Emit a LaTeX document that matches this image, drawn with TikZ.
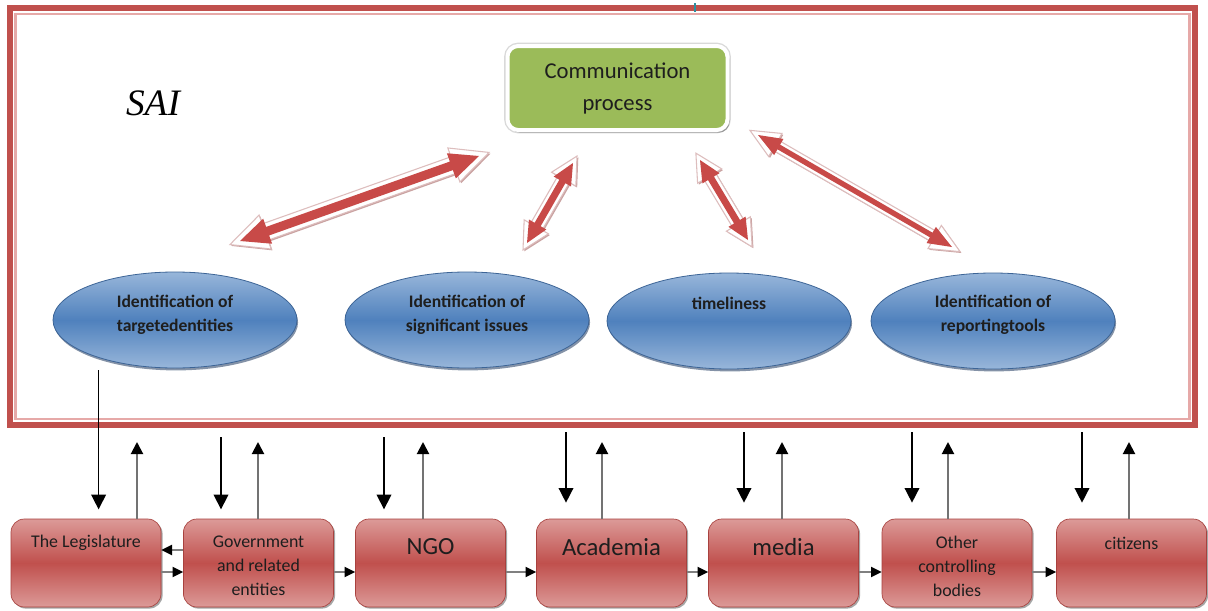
\documentclass[tikz,border=0pt]{standalone}
\usepackage{fontspec}
\setmainfont{Carlito}
\newfontfamily\timesf{Liberation Serif}
\usetikzlibrary{calc,shapes.geometric,shadows,arrows.meta}
\definecolor{frameRed}{HTML}{C0504D}
\definecolor{framePink}{HTML}{E6A9A8}
\definecolor{greenM}{HTML}{9BBB59}
\definecolor{blueM}{HTML}{4F81BD}
\definecolor{blueL}{HTML}{98B6DA}
\definecolor{blueD}{HTML}{3C6496}
\definecolor{blueDD}{HTML}{1F3A60}
\definecolor{redM}{HTML}{C0504D}
\definecolor{redL}{HTML}{DC9A98}
\definecolor{redD}{HTML}{A8413E}
\definecolor{arrRed}{HTML}{C84A48}
\definecolor{arrEdge}{HTML}{DDBDBD}
\definecolor{arrShadow}{HTML}{A05856}
\definecolor{txt}{HTML}{1E1E1E}
\definecolor{tealT}{HTML}{2E8FA0}
% block double arrow: from, to, extension, shaft half width, head half width, head length, style
\newcommand\blockarr[7]{%
\path[#7] let \p1=($(#2)-(#1)$), \n1={atan2(\y1,\x1)},
  \p2=($(#1)!-#3!(#2)$), \p3=($(#2)!-#3!(#1)$) in
  (\p2) -- ($(\p2)+(\n1:#6)+(\n1+90:#5)$) -- ($(\p2)+(\n1:#6)+(\n1+90:#4)$)
  -- ($(\p3)+(\n1+180:#6)+(\n1+90:#4)$) -- ($(\p3)+(\n1+180:#6)+(\n1+90:#5)$)
  -- (\p3) -- ($(\p3)+(\n1+180:#6)+(\n1-90:#5)$) -- ($(\p3)+(\n1+180:#6)+(\n1-90:#4)$)
  -- ($(\p2)+(\n1:#6)+(\n1-90:#4)$) -- ($(\p2)+(\n1:#6)+(\n1-90:#5)$) -- cycle;}
\tikzset{
  ell/.style={ellipse, minimum width=183pt, minimum height=72pt, inner sep=0pt,
    top color=blueL, bottom color=blueL, middle color=blueM, draw=blueD, line width=0.6pt,
    drop shadow={shadow xshift=0.8pt, shadow yshift=-1.8pt, fill=blueDD, opacity=0.55}},
  elltext/.style={font=\bfseries\fontsize{13.2}{18}\selectfont, text=txt, align=center},
  boxr/.style={rectangle, rounded corners=10pt, minimum width=112.5pt, minimum height=66pt,
    inner sep=0pt, top color=redL, bottom color=redL, middle color=redM, draw=redD, line width=0.5pt,
    drop shadow={shadow xshift=1.2pt, shadow yshift=-1.2pt, fill=black, opacity=0.35}},
  boxtext/.style={font=\fontsize{13.4}{18}\selectfont, text=txt, align=center},
  bigtext/.style={font=\fontsize{18.5}{22}\selectfont, text=txt},
  commbox/.style={rectangle, rounded corners=8pt, minimum width=165pt, minimum height=63pt,
    fill=greenM, draw=white, line width=3pt, align=center, text=txt,
    font=\fontsize{17}{24}\selectfont,
    preaction={draw=black!15, line width=5pt},
    drop shadow={shadow xshift=1.5pt, shadow yshift=-2pt, fill=black, opacity=0.3}},
  downarr/.style={-{Triangle[width=11pt,length=11pt]}, line width=1.1pt, draw=black},
  uparr/.style={-{Triangle[width=9pt,length=9pt,color=black]}, line width=1.5pt, draw=black!55},
  harr/.style={-{Triangle[width=7.5pt,length=8pt,color=black]}, line width=1.6pt, draw=black!50},
  redarr/.style={fill=arrRed},
  outarr/.style={fill=white, draw=arrEdge, line width=0.8pt, xshift=1.6pt, yshift=-2.2pt,
    drop shadow={shadow xshift=1pt, shadow yshift=-1pt, fill=arrShadow, opacity=0.55}},
}
\begin{document}
\begin{tikzpicture}[x=0.75pt,y=-0.75pt]
\useasboundingbox (0,0) rectangle (1208,611);
\fill[white] (0,0) rectangle (1208,611);
% frame
\draw[frameRed, line width=4.5pt] (10,8) rectangle (1195,425);
\draw[framePink, line width=2pt] (15.5,14) rectangle (1189.5,419);
\draw[tealT, line width=1.5pt] (695,3) -- (695,12);
% SAI label
\node (sai) at (153,103) {\timesf\itshape\fontsize{28}{30}\selectfont SAI};
% communication box
\node[commbox] (comm) at (617.5,88) {Communication\\process};
% ellipses
\node[ell] (e1) at (175,320) {};
\node[ell] (e2) at (467,320) {};
\node[ell] (e3) at (729,321) {};
\node[ell] (e4) at (993,321) {};
\node[elltext] (t1) at (175,315) {Identification of\\targetedentities};
\node[elltext] (t2) at (467,315) {Identification of\\significant issues};
\node[elltext] (t3) at (729,303) {timeliness};
\node[elltext] (t4) at (993,315) {Identification of\\reportingtools};
% block arrows
\coordinate (a1s) at (240,241); \coordinate (a1e) at (479,156);
\coordinate (a2s) at (527,243); \coordinate (a2e) at (573,163);
\coordinate (a3s) at (748,240); \coordinate (a3e) at (700,160);
\coordinate (a4s) at (952,247); \coordinate (a4e) at (758,135);
\blockarr{a1s}{a1e}{8pt}{6.5pt}{13.5pt}{28pt}{outarr}
\blockarr{a1s}{a1e}{0pt}{3.4pt}{10pt}{22pt}{redarr}
\blockarr{a2s}{a2e}{6pt}{5pt}{10.5pt}{20pt}{outarr}
\blockarr{a2s}{a2e}{0pt}{2.6pt}{7.5pt}{16pt}{redarr}
\blockarr{a3s}{a3e}{6pt}{5pt}{10.5pt}{20pt}{outarr}
\blockarr{a3s}{a3e}{0pt}{2.6pt}{7.5pt}{16pt}{redarr}
\blockarr{a4s}{a4e}{7pt}{4.3pt}{10pt}{22pt}{outarr}
\blockarr{a4s}{a4e}{0pt}{2pt}{7pt}{18pt}{redarr}
% bottom boxes
\node[boxr] (b1) at (86,563) {};
\node[boxr] (b2) at (258.5,563) {};
\node[boxr] (b3) at (430.5,563) {};
\node[boxr] (b4) at (611.5,563) {};
\node[boxr] (b5) at (783.5,563) {};
\node[boxr] (b6) at (957,563) {};
\node[boxr] (b7) at (1131.5,563) {};
\node[boxtext] (l1) at (86,543) {The Legislature};
\node[boxtext] (l2) at (258.5,566) {Government\\and related\\entities};
\node[bigtext] (l3) at (430.5,547) {NGO};
\node[bigtext] (l4) at (611.5,547) {Academia};
\node[bigtext] (l5) at (783.5,547) {media};
\node[boxtext] (l6) at (957,566) {Other\\controlling\\bodies};
\node[boxtext] (l7) at (1131.5,543) {citizens};
% vertical arrows
\coordinate (d1) at (98.6,370);
\coordinate (d2) at (221,437);
\coordinate (d3) at (384,437);
\coordinate (d4) at (566,432);
\coordinate (d5) at (744,432);
\coordinate (d6) at (912,432);
\coordinate (d7) at (1082,432);
\draw[downarr] (d1) -- ([yshift=7pt]d1 |- b1.north);
\draw[downarr] (d2) -- ([yshift=7pt]d2 |- b2.north);
\draw[downarr] (d3) -- ([yshift=7pt]d3 |- b3.north);
\draw[downarr] (d4) -- ([yshift=12pt]d4 |- b4.north);
\draw[downarr] (d5) -- ([yshift=12pt]d5 |- b5.north);
\draw[downarr] (d6) -- ([yshift=12pt]d6 |- b6.north);
\draw[downarr] (d7) -- ([yshift=12pt]d7 |- b7.north);
\coordinate (u1) at (137,442);
\coordinate (u2) at (258,442);
\coordinate (u3) at (423,442);
\coordinate (u4) at (602,442);
\coordinate (u5) at (782,442);
\coordinate (u6) at (948,442);
\coordinate (u7) at (1129,442);
\draw[uparr] (u1 |- b1.north) -- (u1);
\draw[uparr] (u2 |- b2.north) -- (u2);
\draw[uparr] (u3 |- b3.north) -- (u3);
\draw[uparr] (u4 |- b4.north) -- (u4);
\draw[uparr] (u5 |- b5.north) -- (u5);
\draw[uparr] (u6 |- b6.north) -- (u6);
\draw[uparr] (u7 |- b7.north) -- (u7);
% horizontal arrows
\draw[harr] ([yshift=-6.75pt]b1.east) -- ([yshift=-6.75pt]b2.west);
\draw[harr] ([yshift=9.75pt]b2.west) -- ([yshift=9.75pt]b1.east);
\draw[harr] ([yshift=-6.75pt]b2.east) -- ([yshift=-6.75pt]b3.west);
\draw[harr] ([yshift=-6.75pt]b3.east) -- ([yshift=-6.75pt]b4.west);
\draw[harr] ([yshift=-6.75pt]b4.east) -- ([yshift=-6.75pt]b5.west);
\draw[harr] ([yshift=-6.75pt]b5.east) -- ([yshift=-6.75pt]b6.west);
\draw[harr] ([yshift=-6.75pt]b6.east) -- ([yshift=-6.75pt]b7.west);
\end{tikzpicture}
\end{document}
